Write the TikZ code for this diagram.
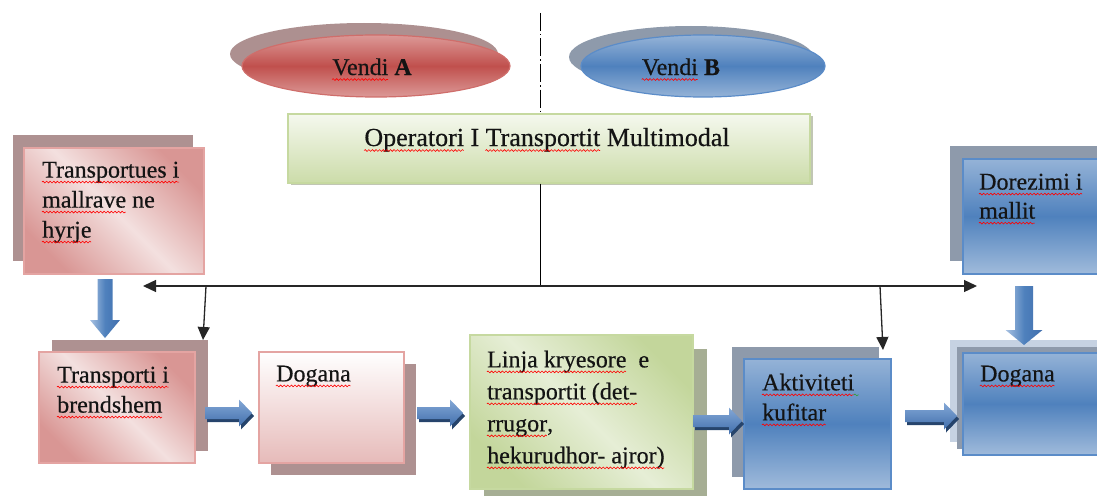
\documentclass[tikz,border=0pt]{standalone}
\usepackage{fontspec}
\setmainfont{Liberation Serif}[FakeBold=0.45]
\usetikzlibrary{shapes.geometric,arrows.meta,shadows,calc,decorations.pathmorphing}

% wavy proofing marks under words
\newsavebox\spbox
\newcommand\spell[2][red]{\sbox\spbox{#2}\usebox\spbox\llap{\raisebox{-4.5pt}[0pt][0pt]{\tikz[x=1pt,y=1pt,baseline=0pt]\draw[#1,line width=0.6pt,decorate,decoration={snake,amplitude=0.9pt,segment length=3.6pt}] (0,0)--(\the\wd\spbox,0);}}}

% block arrows: right-pointing (tail x, tip x, mid y) and down-pointing
\newcommand\rightblockpath[3]{(#1,{#3-6}) -- ({#2-13},{#3-6}) -- ({#2-13},{#3-13.5}) -- (#2,#3)
  -- ({#2-13},{#3+13.5}) -- ({#2-13},{#3+6}) -- (#1,{#3+6}) -- cycle}
\newcommand\rightblock[3]{%
  \fill[arrsh, shift={(2,3)}] \rightblockpath{#1}{#2}{#3};
  \shade[top color=arrlt, bottom color=arrdk] \rightblockpath{#1}{#2}{#3};}
% mid x, tail y, tip y, shaft half width, head half width, head length
\newcommand\downblock[6]{%
  \shade[left color=arrlt!70!white, right color=arrdk, middle color=bluemd]
  ({#1-#4},#2) -- ({#1+#4},#2) -- ({#1+#4},{#3-#6}) -- ({#1+#5},{#3-#6}) -- (#1,#3)
  -- ({#1-#5},{#3-#6}) -- ({#1-#4},{#3-#6}) -- cycle;}

\definecolor{redlt}{HTML}{DC9997}
\definecolor{redmd}{HTML}{C0504D}
\definecolor{redbd}{HTML}{CF6E6B}
\definecolor{redsh}{HTML}{AD9090}
\definecolor{bluelt}{HTML}{95B3D7}
\definecolor{bluemd}{HTML}{4F81BD}
\definecolor{bluebd}{HTML}{5B8CC8}
\definecolor{bluesh}{HTML}{8E9AAB}
\definecolor{bluefog}{HTML}{C6D2E2}
\definecolor{pinkdk}{HTML}{D99694}
\definecolor{pinklt}{HTML}{F3E0DF}
\definecolor{pinkbd}{HTML}{E4A4A2}
\definecolor{pinksh}{HTML}{AE9191}
\definecolor{greendk}{HTML}{C3D69B}
\definecolor{greenlt}{HTML}{E6EED6}
\definecolor{greenbd}{HTML}{C6D9A0}
\definecolor{greensh}{HTML}{A6AE94}
\definecolor{arrlt}{HTML}{84A8D6}
\definecolor{arrdk}{HTML}{416FAD}
\definecolor{arrsh}{HTML}{26446C}
\definecolor{proofgreen}{HTML}{2E9E3A}
\definecolor{ink}{HTML}{141414}

\begin{document}
\begin{tikzpicture}[x=1pt,y=-1pt,
  every node/.style={inner sep=0pt, text=ink},
  txt/.style={font=\fontsize{24}{30}\selectfont, align=left, anchor=north west},
  boxnw/.style={rectangle, anchor=north west, line width=1.5pt},
  pinkbox/.style={boxnw, draw=pinkbd, top color=pinkdk, bottom color=pinkdk, middle color=pinklt, shading angle=-45},
  greenbox/.style={boxnw, draw=greenbd, top color=greendk, bottom color=greendk, middle color=greenlt, shading angle=-45},
  bluebox/.style={boxnw, draw=bluebd, top color=bluelt, bottom color=bluelt!90!white, middle color=bluemd},
  shad/.style n args={3}{drop shadow={shadow xshift=#1pt, shadow yshift=#2pt, fill=#3, opacity=1}},
  link/.style={line width=1.3pt, draw=black!85, -{Triangle[length=13pt,width=12pt]}},
]
\useasboundingbox (0,0) rectangle (1097,495);

% axis between the two countries
\coordinate (axtop) at (540,13);
\coordinate (hub) at (540,286);
\coordinate (hl) at (143,286);
\coordinate (hr) at (977,286);
\coordinate (j1) at (206,286);
\coordinate (j2) at (880,286);
\coordinate (j1e) at (203,340);
\coordinate (j2e) at (883,350);

% countries
\node[ellipse, minimum width=268pt, minimum height=62pt, line width=1.2pt, draw=redbd,
      top color=redlt, bottom color=redlt, middle color=redmd, shad={-12}{12}{redsh}]
      (va) at (376,66) {};
\node[ellipse, minimum width=244pt, minimum height=62pt, line width=1.2pt, draw=bluebd,
      top color=bluelt, bottom color=bluelt, middle color=bluemd, shad={-12}{9}{bluesh}]
      (vb) at (703,66) {};
\node[font=\fontsize{24}{30}\selectfont, anchor=base] (vat) at (372,75) {\spell{Vendi} \textbf{A}};
\node[font=\fontsize{24}{30}\selectfont, anchor=base] (vbt) at (681,75) {\spell{Vendi} \textbf{B}};

\draw[line width=1pt, dash pattern=on 18pt off 3pt on 1.5pt off 3pt] (axtop) -- (axtop |- 0,113);

% operator
\node[boxnw, draw=greenbd, top color=greenlt!40!white, bottom color=greendk!75!greenlt,
      minimum width=522pt, minimum height=69pt, shad={3}{-2}{greensh!70!white}]
      (op) at (287,113) {};
\node[font=\fontsize{26}{30}\selectfont, anchor=base] (opt) at (547,146)
      {\spell{Operatori} I \spell{Transportit} Multimodal};

\draw[line width=1pt] (op.south -| axtop) -- (hub);
\draw[link] (hub) -- (hl);
\draw[link] (hub) -- (hr);
\draw[link] (j1) -- (j1e);
\draw[link] (j2) -- (j2e);

% upper side boxes
\node[pinkbox, minimum width=180pt, minimum height=126pt, shad={-11}{13}{pinksh}] (tm) at (23,147) {};
\node[txt] (tmt) at (42,161.5) {\spell{Transportues i}\\\spell{mallrave} ne\\\spell{hyrje}};

\node[bluebox, minimum width=150pt, minimum height=115pt, shad={-13}{13}{bluesh}] (dm) at (962,158) {};
\node[txt, font=\fontsize{24}{29}\selectfont] (dmt) at (979,173.5) {\spell{Dorezimi i}\\\spell{mallit}};

% lower chain
\node[pinkbox, minimum width=156pt, minimum height=111pt, shad={13}{12}{pinksh}] (tb) at (38,351) {};
\node[txt] (tbt) at (57,366.5) {\spell{Transporti i}\\\spell{brendshem}};

\node[boxnw, draw=pinkbd, top color=white, bottom color=pinkdk!65!white,
      minimum width=145pt, minimum height=111pt, shad={12}{-12}{pinksh}] (dg1) at (258,351) {};
\node[txt] (dg1t) at (276,365.5) {\spell{Dogana}};

\node[greenbox, minimum width=223pt, minimum height=154pt, shad={14}{-14}{greensh}] (lk) at (469,334) {};
\node[txt, font=\fontsize{24}{32}\selectfont] (lkt) at (487,350.5)
      {\spell{Linja kryesore}\ \ e\\\spell{transportit (det-}\\\spell{rrugor},\\\spell{hekurudhor- ajror)}};

\node[bluebox, minimum width=147pt, minimum height=130pt, shad={-12}{12}{bluesh}] (ak) at (743,358) {};
\node[txt] (akt) at (762,373.5) {\spell{Aktiviteti}\spell[proofgreen]{\hbox to 5pt{}}\\\spell{kufitar}};

\node[bluebox, minimum width=150pt, minimum height=102pt,
      drop shadow={shadow xshift=-13pt, shadow yshift=13pt, fill=bluefog, opacity=1},
      shad={-6}{6}{bluesh}] (dg2) at (962,352) {};
\node[txt] (dg2t) at (980,365.5) {\spell{Dogana}};

% block arrows along the chain
\downblock{105}{279}{338}{7.5}{15}{18}
\downblock{1024}{286}{345}{9}{18.5}{15}
\rightblock{205}{252}{413}
\rightblock{417}{463}{413}
\rightblock{693}{742}{421}
\rightblock{905}{957}{416}
\end{tikzpicture}
\end{document}
